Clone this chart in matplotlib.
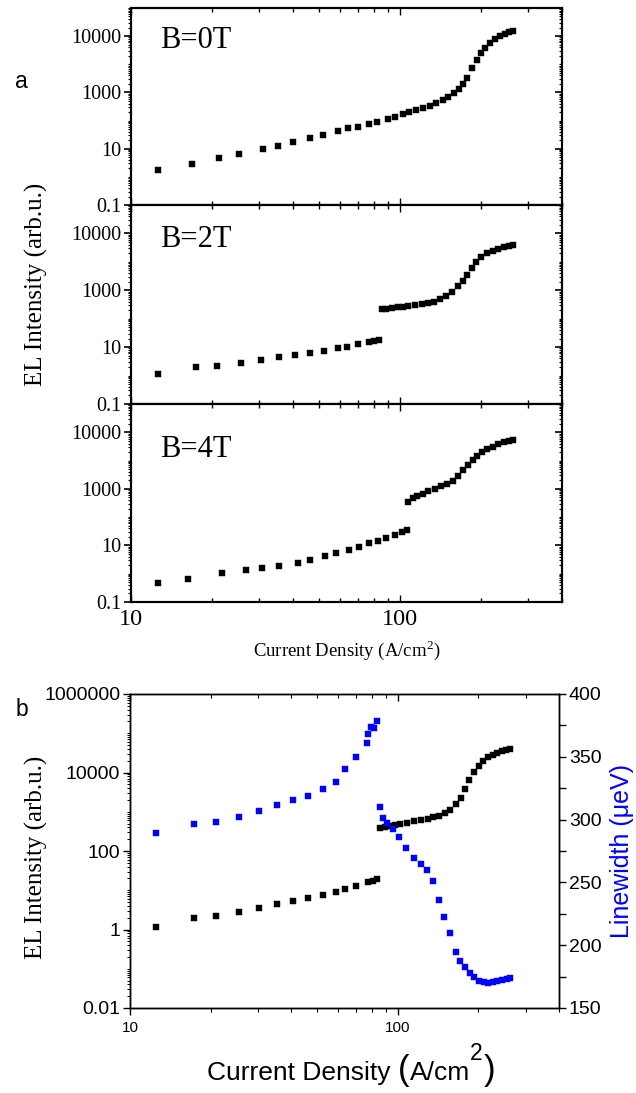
import numpy as np
import matplotlib
matplotlib.use("Agg")
import matplotlib.pyplot as plt
from matplotlib.ticker import FixedLocator, LogLocator, NullFormatter, MultipleLocator

# ---------------- data ----------------
# (a) EL intensity vs current density at three magnetic fields
j_0T = [12.6, 16.9, 21.2, 25.2, 30.9, 35.2, 40.0, 46.3, 51.7, 58.8, 64.1, 69.8, 76.7, 82.1,
        90.2, 95.8, 102.6, 108, 114.6, 121.8, 129.4, 136.2, 144.6, 150.8, 158.8, 165.6, 171.4,
        177.4, 185.2, 193.3, 200, 207, 216, 225.5, 235.4, 245.6, 254, 263]
el_0T = [1.74, 2.84, 4.64, 6.4, 9.7, 12.4, 17.1, 23.8, 30.3, 42, 53.7, 58.3, 74.5, 87.7,
         112, 132, 169, 199, 234, 275, 324, 414, 528, 676, 937, 1298, 1953,
         3190, 7210, 13870, 24550, 36900, 55600, 77100, 98400, 115800, 136500, 148000]

j_2T = [12.6, 17.45, 20.9, 25.6, 30.4, 35.5, 40.7, 46.3, 52.2, 58.8, 63.5, 69.8, 76.7, 80.0, 83.6,
        85.8, 88.7, 93.4, 98.3, 102.6, 107.1, 113.7, 120.8, 127.1, 133.7, 140.9, 148.3, 156.1,
        164.3, 171.4, 177.4, 185.2, 191.8, 200, 210.5, 221.6, 231.3, 243.6, 254, 263]
el_2T = [1.14, 2.01, 2.18, 2.78, 3.54, 4.52, 5.31, 6.25, 7.35, 9.37, 10.2, 13.0, 15.2, 16.5, 17.9,
         221, 225, 240, 255, 265, 282, 306, 332, 360, 391, 498, 635, 879,
         1430, 2140, 3480, 6150, 10000, 15000, 20700, 24400, 28700, 33700, 36600, 39700]

j_4T = [12.6, 16.3, 21.8, 26.8, 30.7, 35.5, 41.8, 46.3, 52.6, 57.8, 64.6, 70.4, 76.7, 82.8,
        88.7, 95.8, 101.7, 106.2,
        107.1, 111.7, 115.6, 121.8, 127.1, 134.9, 142, 149.5, 157.4, 164.3, 171.4, 179, 186.8,
        193.3, 201.7, 210.5, 221.6, 231.3, 243.6, 254, 263]
el_4T = [0.469, 0.65, 1.06, 1.35, 1.59, 1.87, 2.39, 3.05, 4.22, 5.39, 6.88, 8.78, 12.2, 14.3,
         18.2, 23.3, 29.7, 35.0,
         342, 473, 557, 655, 836, 984, 1256, 1478, 1887, 2834, 4614, 6930, 10420,
         14420, 19950, 25470, 29990, 38280, 45080, 48870, 52960]

field_labels = ["B=0T", "B=2T", "B=4T"]

# (b) EL intensity and linewidth
j_b = [12.5, 17.3, 20.9, 25.5, 30.3, 35.4, 40.6, 46.1, 52.5, 58.7, 63.4, 69.7, 77.3, 80.7, 83.5,
       85.7, 89.4, 93.3, 97.5, 101.7, 108.1, 114.8, 121.9, 129.4, 135.2, 142.3, 149.6, 156.3,
       164.5, 171.8, 177.8, 184.1, 192.2, 200.5, 207.5, 216.6, 226, 234, 244.3, 252.9, 261.8]
el_b = [1.16, 1.96, 2.21, 2.79, 3.53, 4.46, 5.32, 6.35, 7.57, 9.02, 10.8, 12.8, 16.2, 17.2, 19.4,
        385, 409, 433, 459, 487, 517, 581, 616, 653, 735, 780, 929, 1109,
        1575, 2239, 3800, 6440, 10300, 14650, 19640, 24830, 27930, 31430, 35320, 37430, 39690]

j_lw = [12.5, 17.3, 20.9, 25.5, 30.3, 35.4, 40.6, 46.1, 52.5, 58.7, 63.4, 69.7, 76.5, 77.5,
        79.5, 81.5, 83.5, 85.7, 87.9, 91.0, 95.8, 100.9, 107.1, 114.8, 121.9, 128.3, 135.2,
        142.3, 148.5, 156.3, 164.5, 170.2, 177.8, 185.6, 192.2, 200.5, 209.4, 216.6, 226,
        234, 244.3, 255, 261.8]
lw_b = [289.3, 296.5, 298.1, 302.1, 306.8, 311.6, 315.6, 318.8, 324.4, 329.9, 340.3, 349.8,
        361, 368.2, 373.7, 372.9, 378.5, 310, 301.3, 297.3, 292.5, 286.2, 277.4, 269.4,
        264.7, 259.9, 251.1, 236, 222.5, 209.7, 194.6, 187.4, 182.6, 177.9, 174.7, 171.5,
        170.7, 169.9, 170.7, 171.5, 172.3, 173.1, 173.9]

# tick positions / labels
x_ticks = [10, 100]
x_ticklabels = ["10", "100"]
ya_ticks = [0.1, 10, 1000, 1e5]
ya_ticklabels = ["0.1", "10", "1000", "10000"]
yb_ticks = [0.01, 1, 100, 1e4, 1e6]
yb_ticklabels = ["0.01", "1", "100", "10000", "1000000"]
lw_ticks = [150, 200, 250, 300, 350, 400]

# ---------------- figure ----------------
W, H = 636, 1093
fig = plt.figure(figsize=(W / 100, H / 100), dpi=100)

SERIF = "Liberation Serif"
SANS = "Liberation Sans"
BLUE = "#0000ff"


def frac(l, t, r, b):
    return [l / W, 1 - b / H, (r - l) / W, (b - t) / H]


panel_a = [frac(131, 8, 562, 205), frac(131, 205, 562, 404), frac(131, 404, 562, 602)]
label_y = [0.797, 0.789, 0.732]
series_a = [(j_0T, el_0T), (j_2T, el_2T), (j_4T, el_4T)]

for i, rect in enumerate(panel_a):
    ax = fig.add_axes(rect)
    jj, ee = series_a[i]
    ax.plot(jj, ee, ls="none", marker="s", ms=4.6, mfc="black", mec="black", mew=0.3,
            clip_on=False)
    ax.set_xscale("log")
    ax.set_yscale("log")
    ax.set_xlim(10, 400)
    ax.set_ylim(0.1, 1e6)
    for s in ax.spines.values():
        s.set_linewidth(1.5)
    ax.yaxis.set_major_locator(FixedLocator(ya_ticks))
    ax.set_yticklabels(ya_ticklabels, fontfamily=SERIF, fontsize=14.5)
    ax.yaxis.set_minor_locator(LogLocator(base=10, subs=np.arange(1, 10), numticks=30))
    ax.yaxis.set_minor_formatter(NullFormatter())
    ax.tick_params(axis="y", which="major", direction="out", length=5, width=1.2, pad=2)
    ax.tick_params(axis="y", which="minor", direction="out", length=2.5, width=0.8)
    ax.xaxis.set_major_locator(FixedLocator(x_ticks))
    ax.xaxis.set_minor_locator(LogLocator(base=10, subs=np.arange(2, 10), numticks=30))
    ax.xaxis.set_minor_formatter(NullFormatter())
    ax.tick_params(axis="x", which="both", direction="in", top=True, bottom=True,
                   width=1.0)
    ax.tick_params(axis="x", which="major", length=5)
    ax.tick_params(axis="x", which="minor", length=3)
    if i == 2:
        ax.set_xticklabels(x_ticklabels, fontfamily=SERIF, fontsize=17.5)
        ax.tick_params(axis="x", which="major", pad=5)
    else:
        ax.set_xticklabels([])
    # right-hand ticks pointing inward
    axr = ax.twinx()
    axr.set_yscale("log")
    axr.set_ylim(0.1, 1e6)
    axr.yaxis.set_major_locator(FixedLocator(ya_ticks))
    axr.yaxis.set_minor_locator(LogLocator(base=10, subs=np.arange(1, 10), numticks=30))
    axr.yaxis.set_major_formatter(NullFormatter())
    axr.yaxis.set_minor_formatter(NullFormatter())
    axr.tick_params(axis="y", which="major", direction="in", length=5, width=1.2)
    axr.tick_params(axis="y", which="minor", direction="in", length=2.5, width=0.8)
    for s in axr.spines.values():
        s.set_linewidth(1.5)
    ax.text(0.067, label_y[i], field_labels[i], transform=ax.transAxes,
            fontfamily=SERIF, fontsize=22, ha="left", va="baseline")
    if i == 2:
        ax.set_xlabel("Current Density (A/cm$^{\\mathregular{2}}$)", fontfamily=SERIF,
                      fontsize=13.5, labelpad=6)

fig.text(36 / W, 1 - 284 / H, "EL Intensity (arb.u.)", rotation=90, ha="center",
         va="center", fontfamily=SERIF, fontsize=18)
fig.text(21 / W, 1 - 81 / H, "a", ha="center", va="center", fontfamily=SANS, fontsize=16.5)

# ---------------- panel b ----------------
axb = fig.add_axes(frac(130, 694, 559, 1008))
axb.plot(j_b, el_b, ls="none", marker="s", ms=4.0, mfc="black", mec="black", mew=0.3)
axb.set_xscale("log")
axb.set_yscale("log")
axb.set_xlim(10, 400)
axb.set_ylim(0.01, 1e6)
axb.yaxis.set_major_locator(FixedLocator(yb_ticks))
axb.set_yticklabels(yb_ticklabels, fontfamily=SANS, fontsize=14)
axb.yaxis.set_minor_locator(LogLocator(base=10, subs=np.arange(1, 10), numticks=30))
axb.yaxis.set_minor_formatter(NullFormatter())
axb.tick_params(axis="y", which="major", direction="out", length=5, width=1.0, pad=2)
axb.tick_params(axis="y", which="minor", direction="out", length=2.5, width=0.7)
axb.xaxis.set_major_locator(FixedLocator(x_ticks))
axb.set_xticklabels(x_ticklabels, fontfamily=SANS, fontsize=11)
axb.xaxis.set_minor_locator(LogLocator(base=10, subs=np.arange(2, 10), numticks=30))
axb.xaxis.set_minor_formatter(NullFormatter())
axb.tick_params(axis="x", which="major", direction="out", length=5, width=1.0, pad=4)
axb.tick_params(axis="x", which="minor", direction="out", length=3, width=0.8)
for s in axb.spines.values():
    s.set_linewidth(1.0)

# top ticks pointing inward
axt = axb.twiny()
axt.set_xscale("log")
axt.set_xlim(10, 400)
axt.xaxis.set_major_locator(FixedLocator(x_ticks))
axt.xaxis.set_minor_locator(LogLocator(base=10, subs=np.arange(2, 10), numticks=30))
axt.xaxis.set_major_formatter(NullFormatter())
axt.xaxis.set_minor_formatter(NullFormatter())
axt.tick_params(axis="x", which="major", direction="in", length=5, width=1.0)
axt.tick_params(axis="x", which="minor", direction="in", length=3, width=0.8)

# linewidth on the right axis
axl = axb.twinx()
axl.plot(j_lw, lw_b, ls="none", marker="s", ms=4.0, mfc=BLUE, mec=BLUE, mew=0.3)
axl.set_ylim(150, 400)
axl.yaxis.set_major_locator(FixedLocator(lw_ticks))
axl.yaxis.set_minor_locator(MultipleLocator(25))
axl.set_yticklabels([str(v) for v in lw_ticks], fontfamily=SANS, fontsize=14)
axl.tick_params(axis="y", which="major", direction="out", length=5, width=1.0, pad=2)
axl.tick_params(axis="y", which="minor", direction="out", length=5, width=1.0)
axl.set_ylabel("Linewidth (\u03bceV)", fontfamily=SANS, fontsize=18, color=BLUE,
               labelpad=6)
for s in axl.spines.values():
    s.set_linewidth(1.0)

fig.text(36 / W, 1 - 857 / H, "EL Intensity (arb.u.)", rotation=90, ha="center",
         va="center", fontfamily=SERIF, fontsize=18)
fig.text(22 / W, 1 - 710 / H, "b", ha="center", va="center", fontfamily=SANS, fontsize=16.5)

# x label of panel b, set piecewise with tall parentheses and a large superscript
renderer = fig.canvas.get_renderer()
xpos = 207.0
baseline = 1080.0
pieces = [("Current Density ", 19, 0), ("(", 25, 0), ("A/cm", 19, 0),
          ("2", 16.5, 20), (")", 25, 0)]
for txt, size, rise in pieces:
    t = fig.text(xpos / W, 1 - (baseline - rise) / H, txt, fontfamily=SANS,
                 fontsize=size, ha="left", va="baseline")
    bb = t.get_window_extent(renderer)
    xpos += bb.width + (1.0 if txt == "2" else 0.0)

fig.savefig("out.png", dpi=100)
